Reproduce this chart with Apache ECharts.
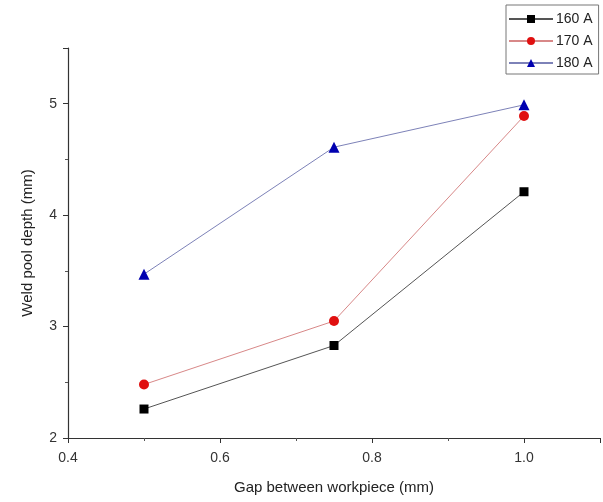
<!DOCTYPE html>
<html>
<head>
<meta charset="utf-8">
<script src="https://cdn.jsdelivr.net/npm/echarts@6/dist/echarts.min.js"></script>
<style>
  html, body { margin: 0; padding: 0; background: #fff; }
  #chart { width: 603px; height: 502px; }
</style>
</head>
<body>
<div id="chart"></div>
<script>
// Gap between workpieces (mm)
const gaps = [0.5, 0.75, 1.0];
// Weld pool depth (mm) for each welding current
const depth160 = [2.26, 2.83, 4.21];
const depth170 = [2.48, 3.05, 4.89];
const depth180 = [3.47, 4.61, 4.99];
const seriesNames = ['160 A', '170 A', '180 A'];

const pairs = (xs, ys) => xs.map((x, i) => [x, ys[i]]);
const font = 'Liberation Sans, Arial, sans-serif';

const chart = echarts.init(document.getElementById('chart'), null, { renderer: 'canvas' });

const axisCommon = {
  axisLine: { show: true, lineStyle: { color: '#333', width: 1.2 } },
  axisTick: { show: true, inside: false, length: 5, lineStyle: { color: '#333' } },
  minorTick: { show: true, splitNumber: 2, length: 3, lineStyle: { color: '#555' } },
  splitLine: { show: false },
  axisLabel: { color: '#333', fontFamily: font, fontSize: 14 },
  nameTextStyle: { color: '#222', fontFamily: font, fontSize: 15 }
};

chart.setOption({
  animation: false,
  backgroundColor: '#fff',
  grid: { left: 68, right: 3, top: 48, bottom: 64 },
  legend: {
    orient: 'vertical',
    left: 506,
    top: 5,
    padding: [7, 6, 4, 2],
    itemWidth: 44,
    itemHeight: 10,
    itemGap: 8,
    borderColor: '#777',
    borderWidth: 1,
    backgroundColor: '#fff',
    textStyle: { color: '#222', fontFamily: font, fontSize: 14, padding: [0, 0, 0, -2] },
    data: seriesNames
  },
  xAxis: Object.assign({}, axisCommon, {
    type: 'value',
    min: 0.4,
    max: 1.1,
    interval: 0.2,
    name: 'Gap between workpiece (mm)',
    nameLocation: 'middle',
    nameGap: 42,
    axisLabel: Object.assign({}, axisCommon.axisLabel, {
      margin: 13,
      formatter: v => (Math.abs(v - 1.1) < 1e-9 ? '' : v.toFixed(1))
    })
  }),
  yAxis: Object.assign({}, axisCommon, {
    type: 'value',
    min: 2,
    max: 5.5,
    interval: 1,
    name: 'Weld pool depth (mm)',
    nameLocation: 'middle',
    nameGap: 33,
    axisLabel: Object.assign({}, axisCommon.axisLabel, {
      margin: 11,
      formatter: v => (Math.abs(v - 5.5) < 1e-9 ? '' : String(v))
    })
  }),
  series: [
    {
      name: seriesNames[0],
      type: 'line',
      data: pairs(gaps, depth160),
      symbol: 'rect',
      symbolSize: 9,
      itemStyle: { color: '#000' },
      lineStyle: { color: '#555', width: 1 }
    },
    {
      name: seriesNames[1],
      type: 'line',
      data: pairs(gaps, depth170),
      symbol: 'circle',
      symbolSize: 10,
      itemStyle: { color: '#e01010' },
      lineStyle: { color: '#d88888', width: 1 }
    },
    {
      name: seriesNames[2],
      type: 'line',
      data: pairs(gaps, depth180),
      symbol: 'triangle',
      symbolSize: 11,
      itemStyle: { color: '#0000b0' },
      lineStyle: { color: '#7d82b8', width: 1 }
    }
  ]
});
</script>
</body>
</html>
